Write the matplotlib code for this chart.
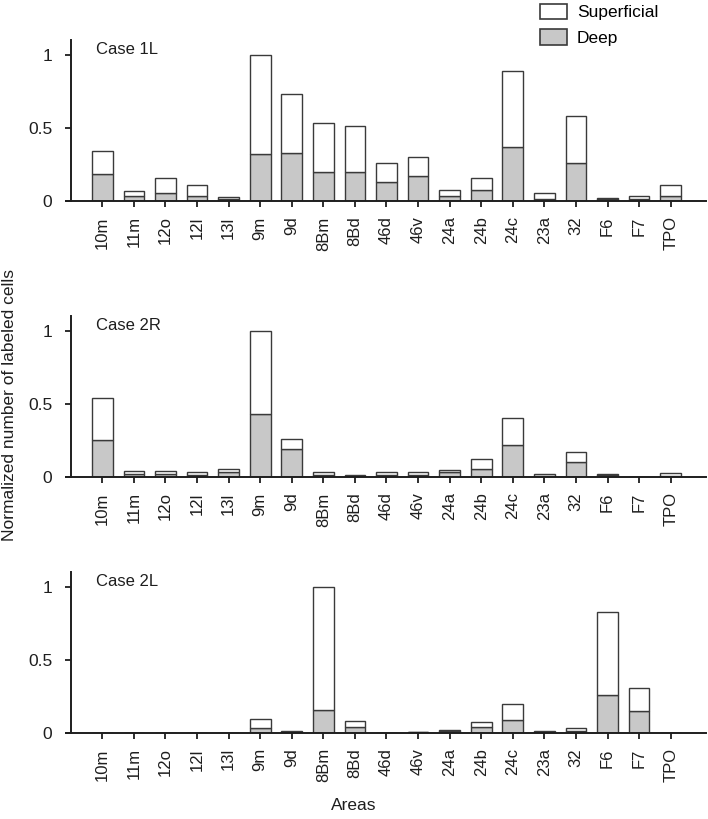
import numpy as np
import matplotlib
matplotlib.use("Agg")
import matplotlib.pyplot as plt
from matplotlib.patches import Patch

plt.rcParams['font.family'] = ['Liberation Sans', 'DejaVu Sans']

areas = ["10m", "11m", "12o", "12l", "13l", "9m", "9d", "8Bm", "8Bd", "46d",
         "46v", "24a", "24b", "24c", "23a", "32", "F6", "F7", "TPO"]

# total (superficial + deep) and deep part, normalized
total_1L = [0.339, 0.069, 0.156, 0.110, 0.027, 1.000, 0.732, 0.535, 0.510, 0.256,
            0.300, 0.075, 0.156, 0.888, 0.053, 0.583, 0.016, 0.030, 0.110]
deep_1L = [0.185, 0.034, 0.055, 0.034, 0.014, 0.318, 0.327, 0.197, 0.197, 0.128,
           0.172, 0.034, 0.073, 0.368, 0.009, 0.259, 0.009, 0.014, 0.034]

total_2R = [0.542, 0.037, 0.037, 0.032, 0.050, 1.000, 0.259, 0.032, 0.011, 0.032,
            0.032, 0.043, 0.119, 0.400, 0.018, 0.172, 0.018, 0.000, 0.025]
deep_2R = [0.252, 0.018, 0.018, 0.014, 0.030, 0.428, 0.190, 0.014, 0.007, 0.014,
           0.014, 0.030, 0.050, 0.220, 0.005, 0.098, 0.011, 0.000, 0.004]

total_2L = [0.0, 0.0, 0.0, 0.0, 0.0, 0.096, 0.014, 1.000, 0.083, 0.0,
            0.007, 0.020, 0.076, 0.197, 0.014, 0.034, 0.826, 0.305, 0.0]
deep_2L = [0.0, 0.0, 0.0, 0.0, 0.0, 0.034, 0.007, 0.156, 0.041, 0.0,
           0.004, 0.014, 0.037, 0.087, 0.007, 0.011, 0.257, 0.151, 0.0]

cases = ["Case 1L", "Case 2R", "Case 2L"]
totals = [total_1L, total_2R, total_2L]
deeps = [deep_1L, deep_2R, deep_2L]

edge = "#3a3a3a"
grey = "#c8c8c8"
ink = "#1e1e1e"

fig = plt.figure(figsize=(7.08, 8.19), dpi=100)
bottoms = [0.7549, 0.4179, 0.1054]
x = np.arange(len(areas))

for name, tot, dp, b in zip(cases, totals, deeps, bottoms):
    ax = fig.add_axes([0.0928, b, 0.9044, 0.1961])
    tot = np.array(tot)
    dp = np.array(dp)
    sup = tot - dp
    ax.bar(x, dp, width=0.655, color=grey, edgecolor=edge, linewidth=1)
    ax.bar(x, sup, width=0.655, bottom=dp, color="white", edgecolor=edge, linewidth=1)
    ax.set_xlim(-1.16, 19.12)
    ax.set_ylim(0, 1.1)
    ax.spines['top'].set_visible(False)
    ax.spines['right'].set_visible(False)
    ax.spines['left'].set_position(('data', -1.0))
    for s in ['left', 'bottom']:
        ax.spines[s].set_linewidth(1.4)
        ax.spines[s].set_color(ink)
    ax.set_yticks([0, 0.5, 1])
    ax.set_yticklabels(["0", "0.5", "1"])
    ax.set_xticks(x)
    ax.set_xticklabels(areas, rotation=90)
    ax.tick_params(axis='both', direction='out', length=4.2, width=1.3,
                   color=ink, labelcolor=ink)
    ax.tick_params(axis='x', pad=7, labelsize=12)
    ax.tick_params(axis='y', pad=9, labelsize=12.5)
    ax.text(0.047, 0.94, name, transform=ax.transAxes, fontsize=12,
            va='center', ha='left', color=ink)

fig.text(0.013, 0.505, "Normalized number of labeled cells", rotation=90,
         va='center', ha='center', fontsize=12.5, color=ink)
fig.text(0.5, 0.017, "Areas", ha='center', va='center', fontsize=12.5,
         color=ink)

handles = [Patch(facecolor="white", edgecolor=edge, linewidth=1.2, label="Superficial"),
           Patch(facecolor=grey, edgecolor=edge, linewidth=1.2, label="Deep")]
fig.legend(handles=handles, loc='upper left', bbox_to_anchor=(0.7627, 0.9955),
           frameon=False, fontsize=12.5, handlelength=1.55, handleheight=1.0,
           labelspacing=0.5, handletextpad=0.57, borderpad=0, borderaxespad=0)

fig.savefig("out.png", dpi=100)
